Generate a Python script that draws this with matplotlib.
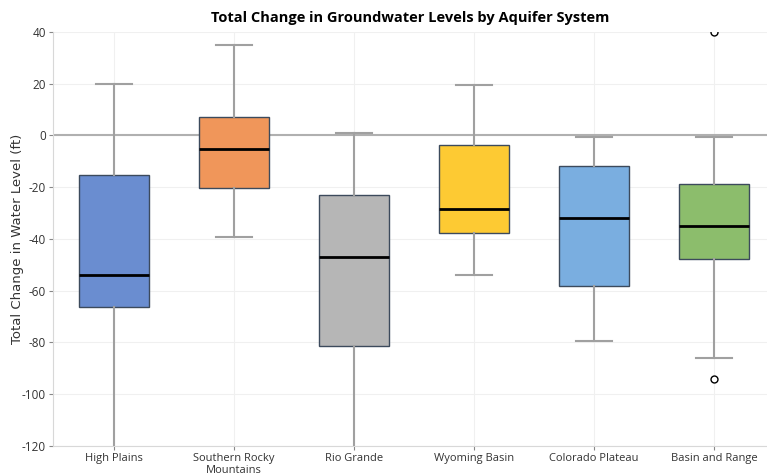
import matplotlib
matplotlib.use("Agg")
import matplotlib.pyplot as plt

plt.rcParams["axes.unicode_minus"] = False

categories = ["High Plains", "Southern Rocky\nMountains", "Rio Grande", "Wyoming Basin", "Colorado Plateau", "Basin and Range"]
whisker_high = [19.9, 35.0, 1.0, 19.5, -0.5, -0.5]
q3 = [-15.3, 7.1, -23.0, -3.7, -11.8, -18.8]
median = [-53.9, -5.2, -47.0, -28.4, -31.9, -35.0]
q1 = [-66.3, -20.3, -81.4, -37.7, -58.3, -47.8]
whisker_low = [-130.0, -39.2, -130.0, -53.9, -79.4, -86.0]
outliers = [[], [], [], [], [], [40.0, -94.1]]
colors = ["#6a8dd0", "#f0965a", "#b6b6b6", "#fdca33", "#7aaee0", "#8cbd6c"]

fig = plt.figure(figsize=(7.67, 4.75), dpi=100)
ax = fig.add_axes([0.069, 0.061, 0.931, 0.872])

stats = []
for i in range(len(categories)):
    stats.append(dict(med=median[i], q1=q1[i], q3=q3[i], whislo=whisker_low[i],
                      whishi=whisker_high[i], fliers=outliers[i], label=categories[i]))

bp = ax.bxp(stats, positions=range(len(categories)), widths=0.58, patch_artist=True,
            showfliers=True,
            boxprops=dict(edgecolor="#3c4a5c", linewidth=1.0),
            medianprops=dict(color="black", linewidth=2.0),
            whiskerprops=dict(color="#a0a0a0", linewidth=1.5),
            capprops=dict(color="#a0a0a0", linewidth=1.5),
            flierprops=dict(marker="o", markerfacecolor="white", markeredgecolor="black",
                            markersize=5, markeredgewidth=1.0),
            zorder=3)
for patch, c in zip(bp["boxes"], colors):
    patch.set_facecolor(c)
for cap in bp["caps"]:
    x = cap.get_xdata()
    mid = (x[0] + x[1]) / 2
    cap.set_xdata([mid - 0.15, mid + 0.15])

ax.axhline(0, color="#b0b0b0", linewidth=1.5, zorder=2)
ax.set_ylim(-120, 40)
ax.set_xlim(-0.51, 5.44)
ax.set_yticks(range(-120, 41, 20))
ax.grid(True, color="#f0f0f0", linewidth=0.8, zorder=0)
ax.set_axisbelow(True)
for s in ["top", "right"]:
    ax.spines[s].set_visible(False)
for s in ["left", "bottom"]:
    ax.spines[s].set_color("#d8d8d8")
ax.tick_params(axis="both", colors="#888888", length=3, pad=2, labelsize=8.5, labelcolor="#333333")
ax.set_xticks(range(len(categories)))
ax.set_xticklabels(categories, fontfamily="Open Sans", fontsize=8, linespacing=1.1)
for lbl in ax.get_yticklabels():
    lbl.set_fontfamily("Open Sans")
ax.set_ylabel("Total Change in Water Level (ft)", fontsize=9.5, color="#333333")
ax.yaxis.set_label_coords(-0.04, 0.5)
ax.set_title("Total Change in Groundwater Levels by Aquifer System", fontfamily="Open Sans",
             fontweight="bold", fontsize=10.5, pad=7)

fig.savefig("out.png", dpi=100)
